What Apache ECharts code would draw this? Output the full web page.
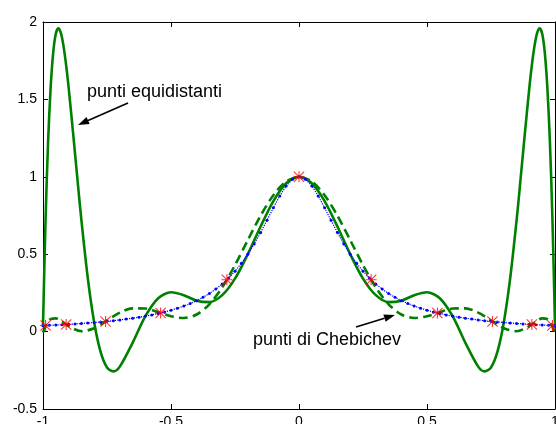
<!DOCTYPE html>
<html><head><meta charset="utf-8">
<script src="https://cdn.jsdelivr.net/npm/echarts@6/dist/echarts.min.js"></script>
<style>html,body{margin:0;padding:0;background:#fff;}#c{width:556px;height:424px;}</style>
</head><body><div id="c"></div>
<script>
// Interpolant at equidistant nodes (green solid)
const xEqui = [-1, -0.99, -0.98, -0.97, -0.96, -0.95, -0.94, -0.93, -0.92, -0.91, -0.9, -0.88, -0.86, -0.85, -0.825, -0.8, -0.775, -0.75, -0.725, -0.7, -0.65, -0.6, -0.55, -0.5, -0.45, -0.4, -0.35, -0.3, -0.25, -0.2, -0.15, -0.1, -0.05,
  0,
  0.05, 0.1, 0.15, 0.2, 0.25, 0.3, 0.35, 0.4, 0.45, 0.5, 0.55, 0.6, 0.65, 0.7, 0.725, 0.75, 0.775, 0.8, 0.825, 0.85, 0.86, 0.88, 0.9, 0.91, 0.92, 0.93, 0.94, 0.95, 0.96, 0.97, 0.98, 0.99, 1];
const yEqui = [0.0385, 0.7261, 1.2303, 1.5810, 1.8044, 1.9236, 1.9589, 1.9280, 1.8459, 1.7257, 1.5787, 1.2402, 0.8881, 0.7195, 0.3450, 0.0588, -0.1312, -0.2315, -0.2569, -0.2262, -0.0726, 0.1, 0.2156, 0.2538, 0.2350, 0.2, 0.1906, 0.2354, 0.3426, 0.5, 0.6790, 0.8434, 0.9586,
  1,
  0.9586, 0.8434, 0.6790, 0.5, 0.3426, 0.2354, 0.1906, 0.2, 0.2350, 0.2538, 0.2156, 0.1, -0.0726, -0.2262, -0.2569, -0.2315, -0.1312, 0.0588, 0.3450, 0.7195, 0.8881, 1.2402, 1.5787, 1.7257, 1.8459, 1.9280, 1.9589, 1.9236, 1.8044, 1.5810, 1.2303, 0.7261, 0.0385];

// Interpolant at Chebyshev nodes (green dashed)
const xCheb = [-1, -0.975, -0.95, -0.925, -0.9, -0.85, -0.8, -0.75, -0.7, -0.65, -0.6, -0.55, -0.5, -0.45, -0.4, -0.35, -0.3, -0.25, -0.2, -0.15, -0.1, -0.05,
  0,
  0.05, 0.1, 0.15, 0.2, 0.25, 0.3, 0.35, 0.4, 0.45, 0.5, 0.55, 0.6, 0.65, 0.7, 0.75, 0.8, 0.85, 0.9, 0.925, 0.95, 0.975, 1];
const yCheb = [-0.0053, 0.0753, 0.0855, 0.0641, 0.0352, 0.0025, 0.0213, 0.0718, 0.1224, 0.1503, 0.1488, 0.1258, 0.0987, 0.0879, 0.1105, 0.1764, 0.2858, 0.4296, 0.5910, 0.7489, 0.8813, 0.9692,
  1,
  0.9692, 0.8813, 0.7489, 0.5910, 0.4296, 0.2858, 0.1764, 0.1105, 0.0879, 0.0987, 0.1258, 0.1488, 0.1503, 0.1224, 0.0718, 0.0213, 0.0025, 0.0352, 0.0641, 0.0855, 0.0753, -0.0053];

// Runge function (blue dotted)
const xRunge = [-1, -0.975, -0.95, -0.925, -0.9, -0.875, -0.85, -0.825, -0.8, -0.775, -0.75, -0.725, -0.7, -0.675, -0.65, -0.625, -0.6, -0.575, -0.55, -0.525, -0.5, -0.475, -0.45, -0.425, -0.4, -0.375, -0.35, -0.325, -0.3, -0.275, -0.25, -0.225, -0.2, -0.175, -0.15, -0.125, -0.1, -0.075, -0.05, -0.025,
  0,
  0.025, 0.05, 0.075, 0.1, 0.125, 0.15, 0.175, 0.2, 0.225, 0.25, 0.275, 0.3, 0.325, 0.35, 0.375, 0.4, 0.425, 0.45, 0.475, 0.5, 0.525, 0.55, 0.575, 0.6, 0.625, 0.65, 0.675, 0.7, 0.725, 0.75, 0.775, 0.8, 0.825, 0.85, 0.875, 0.9, 0.925, 0.95, 0.975, 1];
const yRunge = [0.0385, 0.0404, 0.0424, 0.0447, 0.0471, 0.0497, 0.0525, 0.0555, 0.0588, 0.0624, 0.0664, 0.0707, 0.0755, 0.0807, 0.0865, 0.0929, 0.1, 0.1079, 0.1168, 0.1267, 0.1379, 0.1506, 0.1650, 0.1813, 0.2, 0.2214, 0.2462, 0.2747, 0.3077, 0.3459, 0.3902, 0.4414, 0.5, 0.5664, 0.64, 0.7191, 0.8, 0.8767, 0.9412, 0.9846,
  1,
  0.9846, 0.9412, 0.8767, 0.8, 0.7191, 0.64, 0.5664, 0.5, 0.4414, 0.3902, 0.3459, 0.3077, 0.2747, 0.2462, 0.2214, 0.2, 0.1813, 0.1650, 0.1506, 0.1379, 0.1267, 0.1168, 0.1079, 0.1, 0.0929, 0.0865, 0.0807, 0.0755, 0.0707, 0.0664, 0.0624, 0.0588, 0.0555, 0.0525, 0.0497, 0.0471, 0.0447, 0.0424, 0.0404, 0.0385];

// Chebyshev nodes (red asterisks)
const xNodes = [-0.9898, -0.9096, -0.7557, -0.5406, -0.2817, 0, 0.2817, 0.5406, 0.7557, 0.9096, 0.9898];
const yNodes = [0.0392, 0.0461, 0.0655, 0.1204, 0.3351, 1, 0.3351, 0.1204, 0.0655, 0.0461, 0.0392];

const labelEqui = 'punti equidistanti';
const labelCheb = 'punti di Chebichev';

const FONT = '"Liberation Sans", Arial, Helvetica, sans-serif';
const zip = (xs, ys) => xs.map((x, i) => [x, ys[i]]);
const star = 'path://M0 9H20V11H0Z M9 0H11V20H9Z M1.4 0L20 18.6L18.6 20L0 1.4Z M18.6 0L20 1.4L1.4 20L0 18.6Z';

function arrow(sx, sy, tx, ty) {
  const dx = tx - sx, dy = ty - sy, len = Math.hypot(dx, dy);
  const ux = dx / len, uy = dy / len, L = 11, W = 3.8;
  const bx = tx - ux * L, by = ty - uy * L;
  return [
    { type: 'line', shape: { x1: sx, y1: sy, x2: bx, y2: by }, style: { stroke: '#000', lineWidth: 1.6 } },
    { type: 'polygon', shape: { points: [[tx, ty], [bx - uy * W, by + ux * W], [bx + uy * W, by - ux * W]] }, style: { fill: '#000' } }
  ];
}

const axisCommon = {
  axisLine: { show: true, onZero: false, lineStyle: { color: '#000', width: 1 } },
  axisTick: { show: true, inside: true, length: 5, lineStyle: { color: '#000' } },
  splitLine: { show: false }
};

const chart = echarts.init(document.getElementById('c'), null, { renderer: 'canvas' });
chart.setOption({
  animation: false,
  backgroundColor: '#fff',
  grid: { left: 43, right: 1, top: 22, bottom: 15, containLabel: false, outerBoundsMode: 'none' },
  xAxis: [
    Object.assign({ type: 'value', min: -1, max: 1, interval: 0.5, position: 'bottom',
      axisLabel: { color: '#000', fontSize: 14, fontFamily: FONT, margin: 6, showMinLabel: true, showMaxLabel: true, hideOverlap: false } }, axisCommon),
    Object.assign({ type: 'value', min: -1, max: 1, interval: 0.5, position: 'top', axisLabel: { show: false } }, axisCommon)
  ],
  yAxis: [
    Object.assign({ type: 'value', min: -0.5, max: 2, interval: 0.5, position: 'left',
      axisLabel: { color: '#000', fontSize: 14, fontFamily: FONT, margin: 6, showMinLabel: true, showMaxLabel: true } }, axisCommon),
    Object.assign({ type: 'value', min: -0.5, max: 2, interval: 0.5, position: 'right', axisLabel: { show: false } }, axisCommon)
  ],
  series: [
    { type: 'line', data: zip(xEqui, yEqui), showSymbol: false, smooth: 0.3, z: 2,
      lineStyle: { color: '#008000', width: 2.6 } },
    { type: 'line', data: zip(xCheb, yCheb), showSymbol: false, smooth: 0.3, z: 3,
      lineStyle: { color: '#008000', width: 2.6, type: [9, 5] } },
    { type: 'line', data: zip(xRunge, yRunge), symbol: 'circle', symbolSize: 3, showSymbol: true, z: 4,
      lineStyle: { color: '#0000ff', width: 1.2, type: 'dotted' }, itemStyle: { color: '#0000ff' } },
    { type: 'scatter', data: zip(xNodes, yNodes), symbol: star, symbolSize: 11, z: 5,
      itemStyle: { color: '#ff0000' } }
  ],
  graphic: [
    { type: 'text', style: { x: 87, y: 92, text: labelEqui, font: '18px ' + FONT, fill: '#000', verticalAlign: 'middle', align: 'left' } },
    { type: 'text', style: { x: 253, y: 340, text: labelCheb, font: '18px ' + FONT, fill: '#000', verticalAlign: 'middle', align: 'left' } }
  ].concat(arrow(128, 103, 78, 125)).concat(arrow(356, 327, 395, 315))
});
</script>
</body></html>
